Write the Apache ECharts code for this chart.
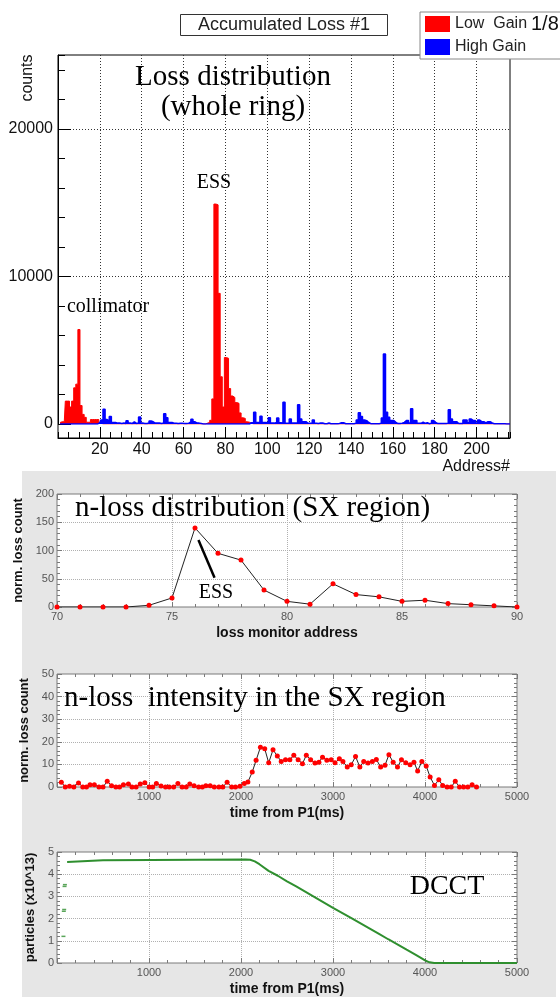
<!DOCTYPE html>
<html><head><meta charset="utf-8">
<script src="https://cdn.jsdelivr.net/npm/echarts@6/dist/echarts.min.js"></script>
<style>html,body{margin:0;padding:0;background:#fff}#c{width:560px;height:997px}</style>
</head><body><div id="c"></div>
<script>
// ---------- data: accumulated loss, bins by address 1..216 ----------
const lowGain = [
  100,150,150,1550,1550,1150,1550,2450,2700,6400,1250,650,450,120,120,300,300,300,300,80,
  0,0,0,0,0,0,0,0,0,0,0,0,0,0,0,0,0,0,0,0,
  0,0,0,0,0,0,0,0,0,0,0,0,0,0,0,0,0,0,0,0,
  0,0,0,0,0,0,0,0,0,0,60,100,250,1700,14900,14850,8850,3200,1150,4500,
  4450,2400,1900,1800,1450,1400,750,420,380,150,120,50,0,0,0,0,0,0,0,0,
  0,0,0,0,0,0,0,0,0,0,0,0,0,0,0,0,0,0,0,0,
  0,0,0,0,0,0,0,0,0,0,0,0,0,0,0,0,0,0,0,0,
  0,0,0,0,0,0,0,0,0,0,0,0,0,0,0,0,0,0,0,0,
  0,0,0,0,0,0,0,0,0,0,0,0,0,0,0,0,0,0,0,0,
  0,0,0,0,0,0,0,0,0,0,0,0,0,0,0,0,0,0,0,0,
  0,0,0,0,0,0,0,0,0,0,0,0,0,0,0,0
];
const highGain = [
  0,0,0,0,0,0,0,0,0,0,0,0,0,0,0,0,0,0,0,100,
  270,1000,300,200,500,100,100,60,60,40,60,40,220,60,40,150,40,60,470,60,
  40,40,60,200,150,60,70,70,40,60,700,420,100,100,50,50,40,50,50,30,
  30,60,150,330,150,60,60,30,0,0,0,0,0,0,0,0,0,0,0,0,
  0,0,0,0,0,0,0,0,0,0,0,90,90,800,100,100,530,100,100,60,
  430,60,60,100,400,80,60,1470,45,45,340,70,70,60,1310,340,160,160,45,45,
  60,270,45,30,70,70,20,20,70,20,20,20,20,40,90,90,20,20,20,20,
  20,60,270,770,500,270,230,100,20,20,20,20,20,60,400,4750,800,450,230,230,
  110,30,30,60,110,230,230,60,1040,230,230,45,45,130,45,90,20,60,230,110,
  30,30,30,30,30,60,970,340,160,160,30,30,30,270,270,90,340,230,230,70,
  270,160,160,70,160,160,70,20,20,20,10,10,10,0,0,0
];
const yTicksTop = [0, 10000, 20000];

// ---------- n-loss distribution (SX region) ----------
const sxAddress = [70,71,72,73,74,75,76,77,78,79,80,81,82,83,84,85,86,87,88,89,90];
const sxLoss    = [0,0,0,0,3,16,140,95,83,30,10,5,41,22,18,10,12,6,4,2,0];

// ---------- n-loss intensity vs time ----------
const lossTime = [47,90,136,183,234,280,320,359,406,456,500,546,593,640,680,722,776,815,860,905,955,1002,1040,1080,1131,1180,1220,1268,1314,1360,1404,1443,1490,1540,1580,1618,1665,1710,1760,1802,1849,1899,1940,1989,2036,2075,2122,2164,2211,2258,2301,2348,2395,2437,2484,2531,2574,2621,2668,2710,2757,2804,2847,2886,2933,2980,3022,3069,3108,3155,3198,3245,3292,3334,3381,3428,3471,3518,3565,3608,3654,3701,3744,3791,3838,3880,3920,3966,4013,4056,4103,4150,4192,4240,4285,4329,4375,4420,4465,4512,4560];
const lossCount = [2.1,0,0.3,0,1.8,0,0,1.0,1.0,0,0,2.5,0.6,0,0,1.0,1.3,0,0,1.3,1.9,0,0,1.6,0.4,0,0,0,1.5,0,0,1.3,0.6,0,0,0.6,0.6,0,0,0,2.1,0,0,0.3,1.6,2.2,6.6,11.8,17.6,16.9,10.7,16.5,13.7,11.3,12.1,12.1,14.0,12.1,10.3,14.1,12.1,10.6,11.0,13.2,11.8,12.1,10.7,12.5,11.3,8.8,9.8,13.5,8.8,11.3,10.6,11.3,12.2,8.8,9.6,14.3,11.0,8.8,12.1,10.7,9.8,11.0,7.1,11.3,9.3,4.4,0.7,3.2,0.7,0,0,2.5,0,0,0,1.0,0];

// ---------- DCCT ----------
const dcctTime = [110,115,500,520,2050,2100,2150,2200,2300,2400,2500,2600,2800,3000,3200,3400,3500,3600,3700,3800,3900,3960,4000,4050,4100,5000];
const dcctParticles = [4.55,4.62,4.63,4.66,4.66,4.65,4.58,4.45,4.15,3.93,3.68,3.45,2.97,2.48,2.02,1.55,1.31,1.07,0.84,0.60,0.37,0.22,0.12,0.03,0,0];
const injTime = [70,74,78,82,86];
const injParticles = [1.2,2.33,2.41,3.45,3.53];

// ---------- build ----------
const SANS = 'Liberation Sans', SERIF = 'Liberation Serif';
const frameGray = '#7a7a7a', gridGray = '#b0b0b0', labelGray = '#555';
const plain = v => String(v);

function panelAxes(g, xr, yr, xname, yname, showMinX, ynameGap) {
  const tick = {inside: true, length: 5, lineStyle: {color: frameGray}};
  const minor = (n) => ({show: true, splitNumber: n, length: 3, lineStyle: {color: frameGray}});
  const split = {show: true, showMinLine: false, showMaxLine: false, lineStyle: {type: 'dotted', color: gridGray, width: 1}};
  const xs = [
    {gridIndex: g, type: 'value', min: xr[0], max: xr[1], interval: xr[2], position: 'bottom',
     axisLine: {show: false, onZero: false}, axisTick: tick, minorTick: minor(xr[3]),
     axisLabel: {fontSize: 11, color: labelGray, margin: 4, showMinLabel: showMinX, fontFamily: SANS, formatter: plain},
     splitLine: split, name: xname, nameLocation: 'middle', nameGap: 19,
     nameTextStyle: {fontSize: 14, fontWeight: 'bold', color: '#111', fontFamily: SANS}},
    {gridIndex: g, type: 'value', min: xr[0], max: xr[1], interval: xr[2], position: 'top',
     axisLine: {show: false, onZero: false}, axisTick: tick, minorTick: minor(xr[3]),
     axisLabel: {show: false}, splitLine: {show: false}}
  ];
  const ys = [
    {gridIndex: g, type: 'value', min: yr[0], max: yr[1], interval: yr[2], position: 'left',
     axisLine: {show: false, onZero: false}, axisTick: tick, minorTick: minor(yr[3]),
     axisLabel: {fontSize: 11, color: labelGray, margin: 3, fontFamily: SANS, formatter: plain},
     splitLine: split, name: yname, nameLocation: 'middle', nameRotate: 90, nameGap: ynameGap,
     nameTextStyle: {fontSize: 13, fontWeight: 'bold', color: '#111', fontFamily: SANS}},
    {gridIndex: g, type: 'value', min: yr[0], max: yr[1], interval: yr[2], position: 'right',
     axisLine: {show: false, onZero: false}, axisTick: tick, minorTick: minor(yr[3]),
     axisLabel: {show: false}, splitLine: {show: false}}
  ];
  return {xs, ys};
}

const p2 = panelAxes(2, [70, 90, 5, 5], [0, 200, 50, 5], 'loss monitor address', 'norm. loss count', true, 15);
const p3 = panelAxes(3, [0, 5000, 1000, 5], [0, 50, 10, 5], 'time from P1(ms)', 'norm. loss count', false, 15);
const p4 = panelAxes(4, [0, 5000, 1000, 5], [0, 5, 1, 5], 'time from P1(ms)', 'particles (x10^13)', false, 15);

const black = '#000';
const topGrid = {show: true, showMinLine: false, showMaxLine: false, lineStyle: {type: [1, 2], color: '#333', width: 1}};
const option = {
  animation: false,
  backgroundColor: '#fff',
  textStyle: {fontFamily: SANS},
  title: {
    text: 'Accumulated Loss #1', left: 180, top: 14,
    padding: [1, 18, 1, 18], borderColor: '#333', borderWidth: 1, backgroundColor: '#fff',
    textStyle: {fontSize: 18, fontWeight: 'normal', color: '#222', fontFamily: SANS, lineHeight: 20}
  },
  legend: {
    data: [{name: 'Low  Gain', icon: 'rect'}, {name: 'High Gain', icon: 'rect'}],
    orient: 'vertical', left: 420, top: 12, padding: [4, 44, 4, 5], itemGap: 7,
    itemWidth: 25, itemHeight: 16, backgroundColor: '#fff', borderColor: '#888', borderWidth: 1,
    selectedMode: false,
    textStyle: {fontSize: 16, color: '#222', fontFamily: SANS}
  },
  grid: [
    {left: 58, right: 50, top: 55, bottom: 997 - 424},
    {left: 58, right: 50, top: 55, bottom: 997 - 438, show: true, borderColor: '#000', borderWidth: 1, backgroundColor: 'transparent'},
    {left: 57, right: 43, top: 494, bottom: 997 - 607, show: true, borderColor: frameGray, borderWidth: 1, backgroundColor: '#fff'},
    {left: 57, right: 43, top: 674, bottom: 997 - 787, show: true, borderColor: frameGray, borderWidth: 1, backgroundColor: '#fff'},
    {left: 57, right: 43, top: 852, bottom: 997 - 966, show: true, borderColor: frameGray, borderWidth: 1, backgroundColor: '#fff'}
  ],
  xAxis: [
    {gridIndex: 0, type: 'value', min: 0, max: 216, interval: 20, position: 'bottom', offset: 14,
     axisLine: {show: true, onZero: false, lineStyle: {color: black}},
     axisTick: {inside: true, length: 11, lineStyle: {color: black}},
     axisLabel: {showMinLabel: false, showMaxLabel: false, fontSize: 16, color: '#111', margin: 4, fontFamily: SANS},
     splitLine: topGrid},
    {gridIndex: 0, type: 'value', min: 0, max: 216, interval: 5, position: 'bottom', offset: 14,
     axisLine: {show: false, onZero: false},
     axisTick: {inside: true, length: 6, lineStyle: {color: black}},
     axisLabel: {show: false}, splitLine: {show: false}},
    {gridIndex: 1, type: 'value', min: 0, max: 1, show: false},
    ...p2.xs, ...p3.xs, ...p4.xs
  ],
  yAxis: [
    {gridIndex: 0, type: 'value', min: 0, max: 25000, interval: 10000, position: 'left',
     axisLine: {show: true, onZero: false, lineStyle: {color: black}},
     axisTick: {inside: true, length: 13, lineStyle: {color: black}},
     axisLabel: {showMaxLabel: false, fontSize: 16, color: '#111', margin: 5, fontFamily: SANS,
                 formatter: v => yTicksTop.includes(v) ? String(v) : ''},
     splitLine: topGrid},
    {gridIndex: 0, type: 'value', min: 0, max: 25000, interval: 2000, position: 'left',
     axisLine: {show: false, onZero: false},
     axisTick: {inside: true, length: 7, lineStyle: {color: black}},
     axisLabel: {show: false}, splitLine: {show: false}},
    {gridIndex: 1, type: 'value', min: 0, max: 1, show: false},
    ...p2.ys, ...p3.ys, ...p4.ys
  ],
  series: [
    {name: 'Low  Gain', type: 'line', xAxisIndex: 0, yAxisIndex: 0, step: 'middle', symbol: 'none',
     data: lowGain.map((v, i) => [i + 1, v]),
     itemStyle: {color: '#ff0000'}, lineStyle: {color: '#ff0000', width: 1},
     areaStyle: {color: '#ff0000', opacity: 1}, z: 2},
    {name: 'High Gain', type: 'line', xAxisIndex: 0, yAxisIndex: 0, step: 'middle', symbol: 'none',
     data: highGain.map((v, i) => [i + 1, v]),
     itemStyle: {color: '#0000ff'}, lineStyle: {color: '#0000ff', width: 1.5},
     areaStyle: {color: '#0000ff', opacity: 1}, z: 3},
    {name: 'sx', type: 'line', xAxisIndex: 3, yAxisIndex: 3,
     data: sxAddress.map((a, i) => [a, sxLoss[i]]),
     symbol: 'circle', symbolSize: 5, itemStyle: {color: '#ff0000'},
     lineStyle: {color: '#222', width: 1},
     markLine: {silent: true, symbol: 'none', label: {show: false},
       lineStyle: {color: '#000', width: 2.5, type: 'solid'},
       data: [[{coord: [76.15, 118.6]}, {coord: [76.85, 51.9]}]]}},
    {name: 'intensity', type: 'line', xAxisIndex: 5, yAxisIndex: 5,
     data: lossTime.map((t, i) => [t, lossCount[i]]),
     symbol: 'circle', symbolSize: 5, itemStyle: {color: '#ff0000'},
     lineStyle: {color: '#222', width: 1}},
    {name: 'dcct', type: 'line', xAxisIndex: 7, yAxisIndex: 7,
     data: dcctTime.map((t, i) => [t, dcctParticles[i]]),
     symbol: 'none', lineStyle: {color: '#2f8f2f', width: 2}},
    {name: 'inj', type: 'scatter', xAxisIndex: 7, yAxisIndex: 7,
     data: injTime.map((t, i) => [t, injParticles[i]]),
     symbol: 'rect', symbolSize: [4, 1.5], itemStyle: {color: '#2f8f2f'}}
  ],
  graphic: [
    {type: 'rect', z: -10, shape: {x: 22, y: 471, width: 534, height: 526}, style: {fill: '#e6e6e6'}},
    {type: 'text', x: 28, y: 78, rotation: Math.PI / 2, style: {text: 'counts', font: '16px "Liberation Sans"', fill: '#111', align: 'center', verticalAlign: 'middle'}},
    {type: 'text', x: 510, y: 467, style: {text: 'Address#', font: '16px "Liberation Sans"', fill: '#111', align: 'right', verticalAlign: 'middle'}},
    {type: 'text', x: 531, y: 24, z: 100, style: {text: '1/8', font: '20px "Liberation Sans"', fill: '#111', align: 'left', verticalAlign: 'middle'}},
    {type: 'text', x: 233, y: 77, z: 100, style: {text: 'Loss distribution', font: '29px "Liberation Serif"', fill: '#000', align: 'center', verticalAlign: 'middle'}},
    {type: 'text', x: 233, y: 107, z: 100, style: {text: '(whole ring)', font: '29px "Liberation Serif"', fill: '#000', align: 'center', verticalAlign: 'middle'}},
    {type: 'text', x: 214, y: 183, z: 100, style: {text: 'ESS', font: '20px "Liberation Serif"', fill: '#000', align: 'center', verticalAlign: 'middle'}},
    {type: 'text', x: 108, y: 307, z: 100, style: {text: 'collimator', font: '20px "Liberation Serif"', fill: '#000', align: 'center', verticalAlign: 'middle'}},
    {type: 'text', x: 75, y: 508, z: 100, style: {text: 'n-loss distribution (SX region)', font: '29px "Liberation Serif"', fill: '#000', align: 'left', verticalAlign: 'middle'}},
    {type: 'text', x: 216, y: 593, z: 100, style: {text: 'ESS', font: '20px "Liberation Serif"', fill: '#000', align: 'center', verticalAlign: 'middle'}},
    {type: 'text', x: 64, y: 698, z: 100, style: {text: 'n-loss  intensity in the SX region', font: '29px "Liberation Serif"', fill: '#000', align: 'left', verticalAlign: 'middle'}},
    {type: 'text', x: 447, y: 887, z: 100, style: {text: 'DCCT', font: '28px "Liberation Serif"', fill: '#000', align: 'center', verticalAlign: 'middle'}}
  ]
};
const chart = echarts.init(document.getElementById('c'));
chart.setOption(option);
</script></body></html>
